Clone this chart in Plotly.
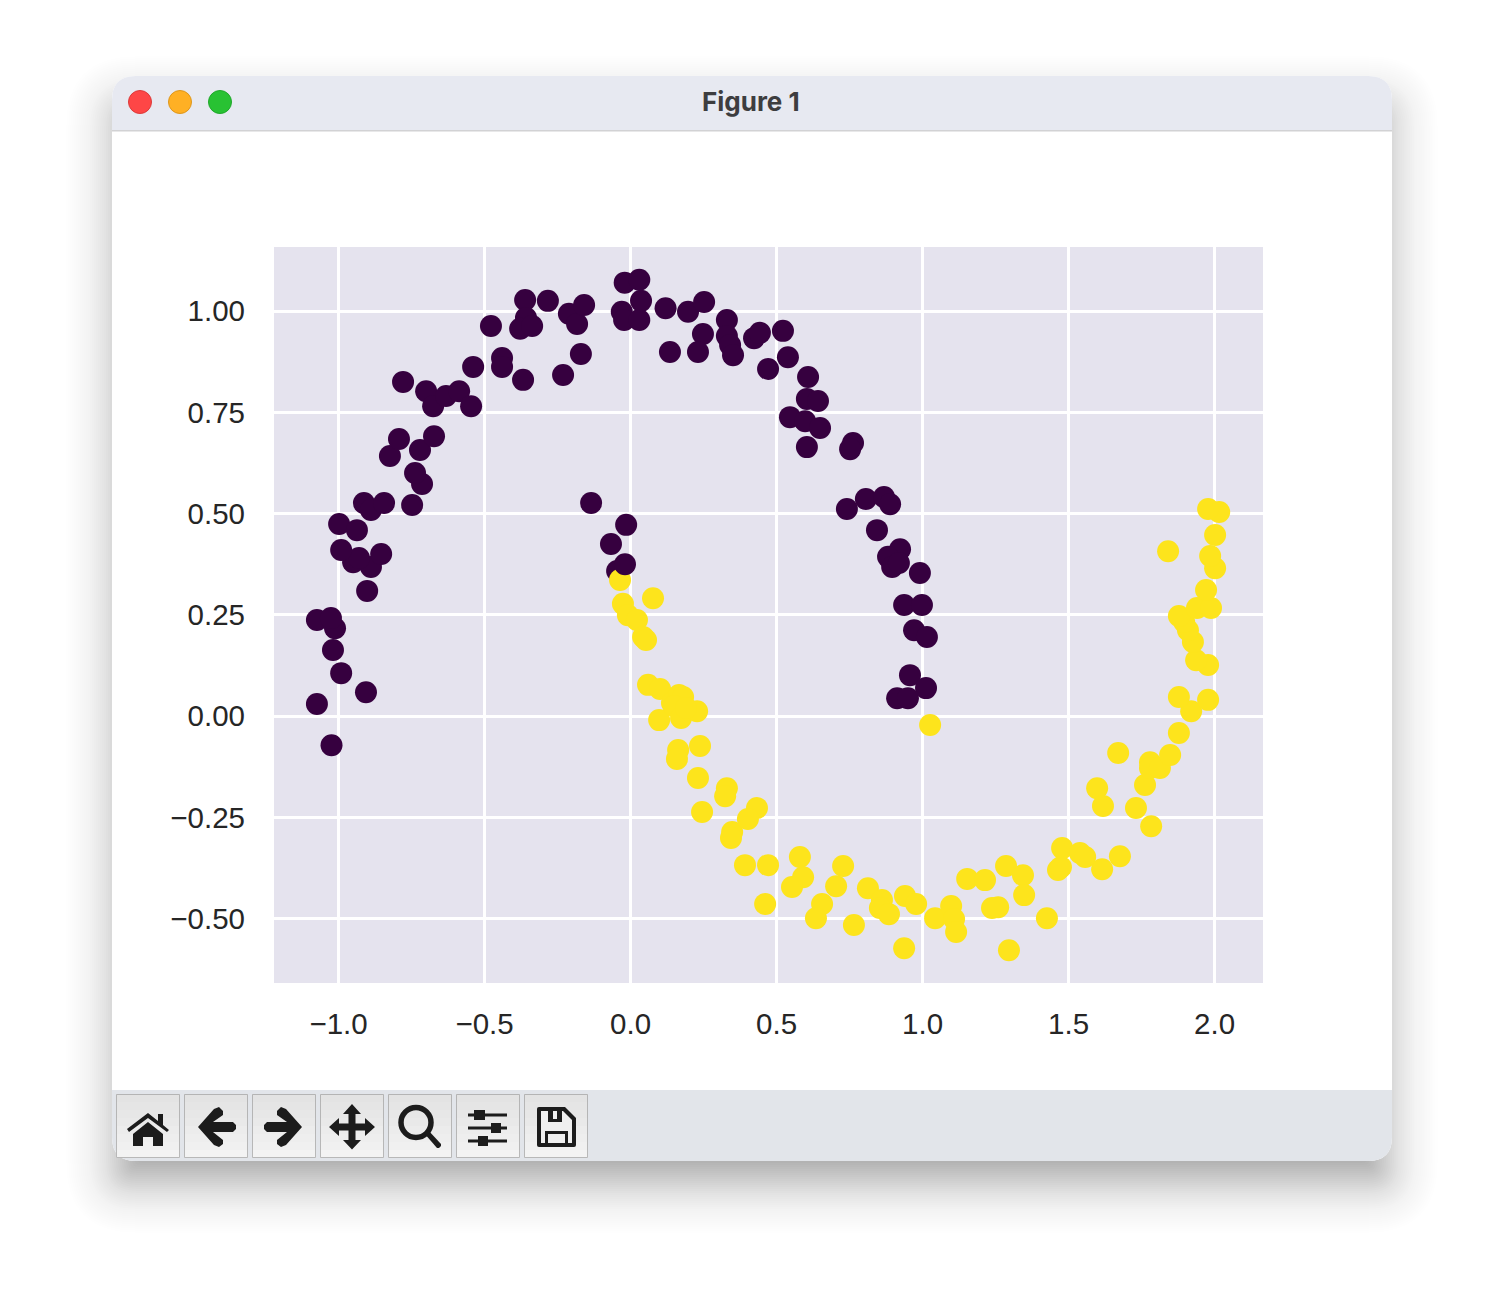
import math
import re
import plotly.graph_objects as go

W, H = 1504, 1312

# ---- chart data ----
purple_x = [-0.02,0.03,0.036,-0.03,-0.022,0.03,0.12,0.197,0.252,0.248,0.135,0.231,0.33,0.33,0.341,0.351,0.423,0.443,0.522,0.539,0.471,0.608,0.604,0.642,0.546,0.598,0.649,0.604,0.762,0.752,0.741,0.806,0.868,0.889,0.844,0.923,0.882,0.896,0.919,0.991,0.937,0.998,0.971,1.015,0.957,0.913,0.95,1.012,
            -0.135,-0.015,-0.067,-0.046,
            -1.074,-1.024,-0.906,-0.991,-1.019,-1.012,-1.074,-1.026,-0.902,-0.889,-0.854,-0.95,-0.93,-0.991,-0.998,-0.937,-0.913,-0.889,-0.844,-0.748,-0.714,-0.738,-0.824,-0.793,-0.721,-0.673,-0.779,-0.7,-0.676,-0.632,-0.587,-0.546,-0.539,-0.478,-0.44,-0.44,-0.368,-0.361,-0.358,-0.378,-0.337,-0.283,-0.231,-0.211,-0.183,-0.159,-0.17]
purple_y = [1.07,1.077,1.025,0.998,0.978,0.978,1.007,0.998,1.022,0.943,0.899,0.899,0.978,0.938,0.916,0.891,0.933,0.946,0.951,0.886,0.857,0.837,0.783,0.778,0.738,0.728,0.711,0.664,0.674,0.659,0.511,0.536,0.541,0.523,0.459,0.412,0.393,0.368,0.378,0.353,0.274,0.274,0.212,0.195,0.101,0.044,0.044,0.069,
            0.526,0.472,0.425,0.358,
            0.03,-0.072,0.059,0.106,0.163,0.217,0.237,0.242,0.309,0.368,0.4,0.38,0.39,0.41,0.474,0.459,0.526,0.509,0.526,0.521,0.573,0.6,0.642,0.684,0.657,0.691,0.825,0.802,0.765,0.79,0.802,0.765,0.862,0.963,0.884,0.862,0.83,1.027,0.983,0.956,0.963,1.025,0.842,0.993,0.968,1.015,0.894]
yellow_x = [-0.036,0.077,-0.026,-0.009,0.022,0.043,0.053,0.06,0.101,0.098,0.142,0.166,0.18,0.149,0.173,0.228,0.19,0.163,0.159,0.238,0.231,0.245,0.33,0.324,0.348,0.344,0.433,0.402,0.392,0.471,0.461,0.58,0.591,0.553,0.656,0.635,0.704,0.728,0.765,0.813,0.861,0.854,0.885,0.94,0.978,0.937,1.043,1.098,1.108,1.115,1.153,1.214,1.238,1.259,1.286,1.296,1.344,1.348,1.426,1.464,1.474,1.478,1.539,1.557,1.615,1.676,1.598,1.618,1.67,1.731,1.783,1.762,1.779,1.779,1.813,1.848,1.878,1.92,1.878,1.978,1.978,1.937,1.926,1.909,1.896,1.878,1.94,1.988,1.971,1.841,2.002,1.985,2.002,2.016,1.978,1.026]
yellow_y = [0.336,0.291,0.277,0.249,0.237,0.195,0.188,0.077,0.067,-0.01,0.032,0.052,0.047,0.025,-0.005,0.012,0.02,-0.084,-0.106,-0.074,-0.153,-0.237,-0.178,-0.198,-0.286,-0.301,-0.227,-0.254,-0.368,-0.368,-0.464,-0.348,-0.398,-0.422,-0.464,-0.499,-0.42,-0.37,-0.516,-0.425,-0.454,-0.474,-0.489,-0.444,-0.464,-0.573,-0.499,-0.469,-0.501,-0.533,-0.402,-0.405,-0.474,-0.472,-0.37,-0.578,-0.393,-0.442,-0.499,-0.38,-0.373,-0.326,-0.338,-0.348,-0.378,-0.346,-0.178,-0.222,-0.091,-0.227,-0.272,-0.17,-0.114,-0.128,-0.128,-0.096,-0.042,0.012,0.047,0.04,0.126,0.138,0.183,0.212,0.232,0.247,0.267,0.267,0.311,0.407,0.365,0.395,0.447,0.504,0.511,-0.022]
top_x = [-0.019]
top_y = [0.375]
x_ticks = [-1.0, -0.5, 0.0, 0.5, 1.0, 1.5, 2.0]
y_ticks = [-0.50, -0.25, 0.0, 0.25, 0.50, 0.75, 1.00]
x_range = [-1.221, 2.166]
y_range = [-0.659, 1.158]
title_text = "Figure 1"

PURPLE = "#36003F"
YELLOW = "#FDE41C"
AX_BG = "#E5E3EE"

# ---- pixel helpers for the window chrome ----
def fx(x): return x / W
def fy(y): return 1 - y / H

def P(s):
    out, is_x = [], True
    for tok in re.findall(r"[MLCQZ]|-?\d+\.?\d*", s):
        if tok.isalpha():
            out.append(tok); is_x = True
        else:
            v = float(tok)
            out.append(f"{fx(v) if is_x else fy(v):.6f}")
            is_x = not is_x
    return " ".join(out)

shapes = []
def path(s, fill=None, line=None, lw=0, op=1):
    shapes.append(dict(type="path", xref="paper", yref="paper", path=P(s), layer="below",
                       fillcolor=fill or "rgba(0,0,0,0)", opacity=op,
                       line=dict(color=line or "rgba(0,0,0,0)", width=lw)))
def rect(x0, y0, x1, y1, fill=None, line=None, lw=0):
    shapes.append(dict(type="rect", xref="paper", yref="paper", layer="below",
                       x0=fx(x0), x1=fx(x1), y0=fy(y1), y1=fy(y0),
                       fillcolor=fill or "rgba(0,0,0,0)",
                       line=dict(color=line or "rgba(0,0,0,0)", width=lw)))
def circ(cx, cy, r, fill=None, line=None, lw=0):
    shapes.append(dict(type="circle", xref="paper", yref="paper", layer="below",
                       x0=fx(cx - r), x1=fx(cx + r), y0=fy(cy + r), y1=fy(cy - r),
                       fillcolor=fill or "rgba(0,0,0,0)",
                       line=dict(color=line or "rgba(0,0,0,0)", width=lw)))
def rr(x0, y0, x1, y1, r):
    return (f"M {x0+r} {y0} L {x1-r} {y0} Q {x1} {y0} {x1} {y0+r} L {x1} {y1-r} "
            f"Q {x1} {y1} {x1-r} {y1} L {x0+r} {y1} Q {x0} {y1} {x0} {y1-r} "
            f"L {x0} {y0+r} Q {x0} {y0} {x0+r} {y0} Z")

# drop shadow built from stacked translucent rounded rectangles
for s in range(76, -26, -2):
    a = 0.0135 * math.exp(-((s + 22) / 50.0) ** 2)
    path(rr(112 - s, 76 + 26 - s, 1392 + s, 1161 + 26 + s, max(24 + s, 6)), fill=f"rgba(0,0,0,{a:.4f})")

WX0, WX1, WY0, WY1, RAD = 112, 1392, 76, 1161, 24
# window body, title bar, toolbar
path(rr(WX0, WY0, WX1, WY1, RAD), fill="#FFFFFF")
path(f"M {WX0} 130 L {WX0} {WY0+RAD} Q {WX0} {WY0} {WX0+RAD} {WY0} L {WX1-RAD} {WY0} Q {WX1} {WY0} {WX1} {WY0+RAD} L {WX1} 130 Z",
     fill="#E7E9F1")
rect(WX0, 130, WX1, 131.5, fill="#D2D2D4")
path(f"M {WX0} 1090 L {WX1} 1090 L {WX1} {WY1-RAD} Q {WX1} {WY1} {WX1-RAD} {WY1} L {WX0+RAD} {WY1} Q {WX0} {WY1} {WX0} {WY1-RAD} Z",
     fill="#E2E5EA")
# traffic lights
circ(140, 102, 11.5, fill="#FE4646", line="#DC3A3A", lw=1)
circ(180, 102, 11.5, fill="#FFB024", line="#DE971C", lw=1)
circ(220, 102, 11.5, fill="#28C233", line="#20A82B", lw=1)

# toolbar buttons with a vertical gradient approximated by bands
for bx in [116, 184, 252, 320, 388, 456, 524]:
    n = 8
    for i in range(n):
        g = 0xE3 + int((0xF3 - 0xE3) * i / (n - 1))
        rect(bx, 1094 + i * 64 / n, bx + 64, 1094 + (i + 1) * 64 / n, fill=f"rgb({g},{g},{g})")
    rect(bx + 0.5, 1094.5, bx + 63.5, 1157.5, line="#A8A8A8", lw=0.8)

INK = "#1C1C1C"
LIGHT = "#EFEFEF"
# home
path("M 127 1129 L 148 1113 L 158 1121 L 158 1114 L 163 1114 L 163 1125 L 169 1130 L 167 1132 L 148 1118 L 129 1132 Z", fill=INK)
path("M 148 1122 L 163 1134 L 163 1146 L 153 1146 L 153 1137 L 143 1137 L 143 1146 L 133 1146 L 133 1134 Z", fill=INK)
# back / forward
left = [(198,1127),(214,1109),(219,1107),(223,1111),(223,1115),(213,1122),(233,1122),(236,1125),(236,1129),(233,1132),(213,1132),(223,1140),(223,1144),(219,1147),(214,1145)]
path("M " + " L ".join(f"{x} {y}" for x, y in left) + " Z", fill=INK)
path("M " + " L ".join(f"{500-x} {y}" for x, y in left) + " Z", fill=INK)
# move
path("M 352 1104 L 361 1114 L 355.5 1114 L 355.5 1123.5 L 365 1123.5 L 365 1118 L 375 1127 L 365 1136 L 365 1130.5 L 355.5 1130.5 "
     "L 355.5 1140 L 361 1140 L 352 1149.5 L 343 1140 L 348.5 1140 L 348.5 1130.5 L 339 1130.5 L 339 1136 L 329 1127 L 339 1118 "
     "L 339 1123.5 L 348.5 1123.5 L 348.5 1114 L 343 1114 Z", fill=INK)
# zoom
circ(416, 1122.5, 15, line=INK, lw=5.5)
path("M 424 1133 L 428 1130 L 441 1144 L 441 1146 L 439 1148 L 437 1148 Z", fill=INK)
# sliders
for ly, kx0, kx1 in [(1115, 474, 485), (1128, 491, 501), (1141, 478, 488)]:
    rect(468, ly - 1.5, 507, ly + 1.5, fill=INK)
    rect(kx0, ly - 5, kx1, ly + 5, fill=INK)
# save
path("M 539 1107 L 565 1107 L 576 1118 L 576 1145 Q 576 1147 574 1147 L 539 1147 Q 537 1147 537 1145 L 537 1109 Q 537 1107 539 1107 Z", fill=INK)
path("M 541 1111 L 563 1111 L 572 1120 L 572 1143 L 541 1143 Z", fill=LIGHT)
path("M 548 1109 L 562 1109 L 562 1122 L 548 1122 Z", fill=INK)
path("M 553 1111 L 557 1111 L 557 1119 L 553 1119 Z", fill=LIGHT)
path("M 545 1131 L 568 1131 L 568 1145 L 545 1145 Z", fill=INK)
path("M 548 1134 L 565 1134 L 565 1143 L 548 1143 Z", fill=LIGHT)

# axes background (above the window fill, below the grid)
AX0, AX1, AY0, AY1 = 274, 1263, 247, 983
rect(AX0, AY0, AX1, AY1, fill=AX_BG)

fig = go.Figure()
def add(xs, ys, color, name):
    fig.add_trace(go.Scatter(x=xs, y=ys, mode="markers", name=name, showlegend=False,
                             marker=dict(color=color, size=22, line=dict(width=0))))
add(purple_x, purple_y, PURPLE, "0")
add(yellow_x, yellow_y, YELLOW, "1")
add(top_x, top_y, PURPLE, "0")

TICKFONT = dict(family="Liberation Sans, Arial, sans-serif", size=29.5, color="#262626")
fig.update_layout(
    width=W, height=H, autosize=False,
    margin=dict(l=0, r=0, t=0, b=0, pad=0),
    paper_bgcolor="#FFFFFF", plot_bgcolor="rgba(0,0,0,0)",
    shapes=shapes, showlegend=False,
    xaxis=dict(domain=[fx(AX0), fx(AX1)], range=x_range, tickvals=x_ticks, tickformat=".1f",
               showgrid=True, gridcolor="#FFFFFF", gridwidth=3, zeroline=False, showline=False,
               ticks="", tickfont=TICKFONT, ticklabelstandoff=20),
    yaxis=dict(domain=[fy(AY1), fy(AY0)], range=y_range, tickvals=y_ticks, tickformat=".2f",
               showgrid=True, gridcolor="#FFFFFF", gridwidth=3, zeroline=False, showline=False,
               ticks="", tickfont=TICKFONT, ticklabelstandoff=28),
    annotations=[dict(text=f"<b>{title_text}</b>", x=fx(751), y=fy(101), xref="paper", yref="paper",
                      showarrow=False, xanchor="center", yanchor="middle",
                      font=dict(family="Inter, Liberation Sans, sans-serif", size=26, color="#3D3D3F"))],
)
fig.write_html("out.html", post_script="document.body.style.margin='0';document.body.style.overflow='hidden';",
               config=dict(displayModeBar=False))
